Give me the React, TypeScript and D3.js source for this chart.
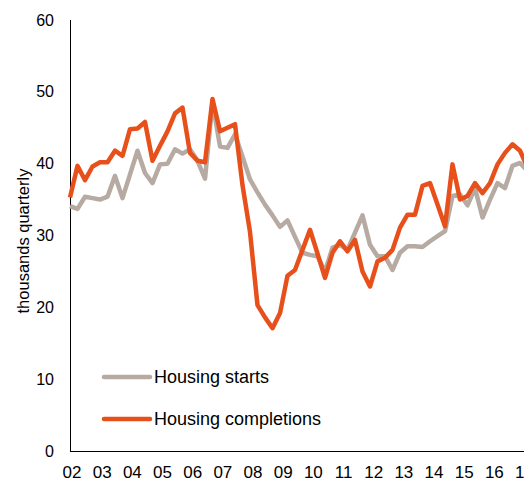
import { useEffect, useRef } from 'react';
import * as d3 from 'd3';

// quarterly, 2002 Q1 onwards
const starts = [
  34.1, 33.7, 35.4, 35.2, 35.0, 35.4, 38.3, 35.2, 38.5, 41.8, 38.7, 37.3,
  39.9, 40.0, 42.0, 41.4, 42.0, 40.4, 37.9, 48.5, 42.4, 42.2, 44.1, 41.0,
  37.8, 36.0, 34.3, 32.8, 31.2, 32.1, 29.8, 27.6, 27.3, 27.1, 25.0, 28.3,
  28.7, 28.0, 30.4, 32.8, 28.7, 27.1, 27.1, 25.2, 27.6, 28.5, 28.5, 28.4,
  29.2, 29.9, 30.6, 35.5, 35.7, 34.2, 36.6, 32.5, 35.0, 37.3, 36.6, 39.7,
  40.1, 39.0,
];

const completions = [
  35.3, 39.7, 37.7, 39.6, 40.2, 40.2, 41.8, 41.1, 44.8, 44.9, 45.8, 40.4,
  42.5, 44.5, 47.0, 47.8, 41.5, 40.4, 40.2, 49.0, 44.5, 45.0, 45.5, 37.0,
  30.5, 20.3, 18.6, 17.1, 19.2, 24.4, 25.2, 28.0, 30.8, 27.5, 24.1, 27.6,
  29.2, 27.8, 29.4, 25.0, 22.9, 26.4, 26.9, 28.0, 31.1, 32.9, 32.9, 36.9,
  37.3, 34.3, 31.3, 39.9, 35.0, 35.5, 37.3, 35.9, 37.3, 39.9, 41.5, 42.7,
  41.8, 39.5,
];

const yearLabels = ['02', '03', '04', '05', '06', '07', '08', '09', '10', '11', '12', '13', '14', '15', '16', '17'];
const yTicks = [0, 10, 20, 30, 40, 50, 60];

const GREY = '#b7aaa2';
const ORANGE = '#e8501b';

export default function App() {
  const svgRef = useRef<SVGSVGElement>(null);
  const width = 524;
  const height = 482;

  useEffect(() => {
    if (!svgRef.current) return;
    const svg = d3.select(svgRef.current);
    svg.selectAll('*').remove();

    const left = 70;
    const top = 20;
    const bottom = 451;

    const x = d3.scaleLinear().domain([0, 60]).range([left, 520]);
    const y = d3.scaleLinear().domain([0, 60]).range([bottom, top]);

    const font = 'Liberation Sans, Arial, sans-serif';

    // Axes
    svg.append('line')
      .attr('x1', left).attr('x2', left)
      .attr('y1', top).attr('y2', bottom)
      .attr('stroke', '#000').attr('stroke-width', 1)
      .attr('shape-rendering', 'crispEdges');
    svg.append('line')
      .attr('x1', left).attr('x2', width)
      .attr('y1', bottom).attr('y2', bottom)
      .attr('stroke', '#000').attr('stroke-width', 1)
      .attr('shape-rendering', 'crispEdges');

    svg.selectAll('.ytick')
      .data(yTicks)
      .enter()
      .append('text')
      .attr('class', 'ytick')
      .attr('x', 54)
      .attr('y', (d) => y(d))
      .attr('dy', '0.35em')
      .attr('text-anchor', 'end')
      .attr('font-family', font)
      .attr('font-size', 16)
      .attr('fill', '#000')
      .text((d) => d);

    svg.selectAll('.xtick')
      .data(yearLabels)
      .enter()
      .append('text')
      .attr('class', 'xtick')
      .attr('x', (_, i) => x(i * 4) + 2 + i * 0.17)
      .attr('y', 478)
      .attr('text-anchor', 'middle')
      .attr('font-family', font)
      .attr('font-size', 17)
      .attr('fill', '#000')
      .text((d) => d);

    svg.append('text')
      .attr('transform', 'translate(29,241) rotate(-90)')
      .attr('text-anchor', 'middle')
      .attr('font-family', font)
      .attr('font-size', 16.5)
      .attr('fill', '#000')
      .text('thousands quarterly');

    // Lines
    const line = d3
      .line<number>()
      .x((_, i) => x(i))
      .y((d) => y(d));

    svg.append('path')
      .datum(starts)
      .attr('fill', 'none')
      .attr('stroke', GREY)
      .attr('stroke-width', 4.5)
      .attr('stroke-linejoin', 'round')
      .attr('d', line);

    svg.append('path')
      .datum(completions)
      .attr('fill', 'none')
      .attr('stroke', ORANGE)
      .attr('stroke-width', 4.5)
      .attr('stroke-linejoin', 'round')
      .attr('d', line);

    // Legend
    const legend = [
      { name: 'Housing starts', color: GREY, y: 377 },
      { name: 'Housing completions', color: ORANGE, y: 419 },
    ];
    legend.forEach((d) => {
      svg.append('line')
        .attr('x1', 104).attr('x2', 150)
        .attr('y1', d.y).attr('y2', d.y)
        .attr('stroke', d.color)
        .attr('stroke-width', 4.5)
        .attr('stroke-linecap', 'round');
      svg.append('text')
        .attr('x', 154)
        .attr('y', d.y)
        .attr('dy', '0.35em')
        .attr('font-family', font)
        .attr('font-size', 18)
        .attr('fill', '#000')
        .text(d.name);
    });
  }, []);

  return (
    <svg
      ref={svgRef}
      width={width}
      height={height}
      style={{ position: 'absolute', left: 0, top: 0, background: '#fff' }}
    />
  );
}
